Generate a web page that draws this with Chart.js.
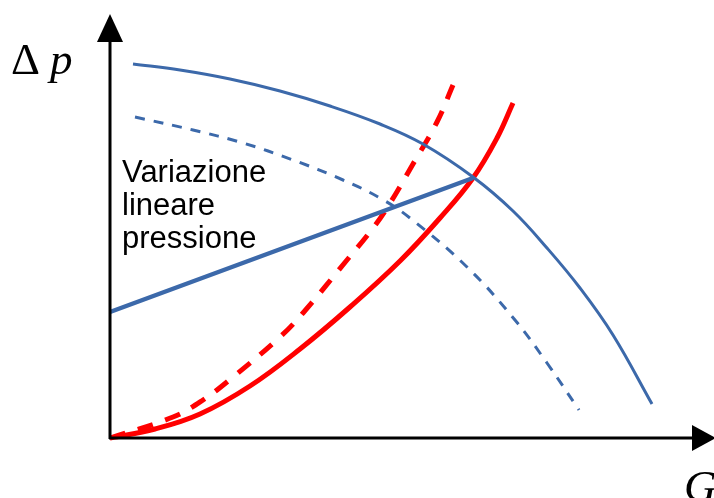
<!DOCTYPE html>
<html>
<head>
<meta charset="utf-8">
<script src="https://cdn.jsdelivr.net/npm/chart.js@4.4.0/dist/chart.umd.min.js"></script>
<style>
  html, body { margin: 0; padding: 0; background: #fff; }
  #wrap { width: 714px; height: 498px; }
</style>
</head>
<body>
<div id="wrap"><canvas id="myChart" width="714" height="498"></canvas></div>
<script>
// valori (G orizzontale, delta p verticale)
var pompaX = [23, 70, 120, 170, 220, 270, 313, 363, 403, 437, 470, 503, 542];
var pompaY = [374, 368, 359, 347, 332, 314, 294, 261, 227, 190, 150, 103, 34];

var pompaRidX = [25, 83, 133, 183, 233, 270, 300, 357, 405, 437, 469];
var pompaRidY = [321, 308, 295, 278, 258, 240, 220, 171, 118, 75, 28];

var circuitoX = [0, 45, 90, 140, 190, 240, 290, 330, 363, 387, 403];
var circuitoY = [0, 9, 24, 52, 89, 131, 177, 220, 260, 300, 335];

var circuito2X = [0, 63, 93, 123, 170, 193, 237, 260, 277, 303, 327, 343];
var circuito2Y = [0, 21, 38, 61, 101, 125, 178, 206, 230, 274, 316, 353];

var lineareX = [0, 363];
var lineareY = [126, 260];

var testo = ["Variazione", "lineare", "pressione"];

var blu = "#3C69AA";
var rosso = "#FF0000";

function punti(xs, ys) {
    var out = [];
    for (var i = 0; i < xs.length; i++) {
        out.push({x: xs[i], y: ys[i]});
    }
    return out;
}

// assi con frecce e scritte
var assiPlugin = {
    id: 'assi',
    afterDatasetsDraw: function (chart) {
        var ctx = chart.ctx;
        var a = chart.chartArea;
        ctx.save();
        ctx.strokeStyle = "#000";
        ctx.fillStyle = "#000";
        ctx.lineWidth = 3;
        // asse y
        ctx.beginPath();
        ctx.moveTo(a.left, a.bottom + 1);
        ctx.lineTo(a.left, a.top + 40);
        ctx.stroke();
        ctx.beginPath();
        ctx.moveTo(a.left, a.top + 14);
        ctx.lineTo(a.left - 13, a.top + 42);
        ctx.lineTo(a.left + 13, a.top + 42);
        ctx.closePath();
        ctx.fill();
        // asse x
        ctx.beginPath();
        ctx.moveTo(a.left - 1, a.bottom);
        ctx.lineTo(a.right - 20, a.bottom);
        ctx.stroke();
        ctx.beginPath();
        ctx.moveTo(a.right + 2, a.bottom);
        ctx.lineTo(a.right - 22, a.bottom - 13);
        ctx.lineTo(a.right - 22, a.bottom + 13);
        ctx.closePath();
        ctx.fill();

        ctx.textBaseline = "alphabetic";
        ctx.font = "45px 'Liberation Serif'";
        ctx.fillText("\u0394", 11, 74);
        ctx.font = "italic 45px 'Liberation Serif'";
        ctx.fillText("p", 50, 74);
        ctx.fillText("G", 684, 501);

        ctx.font = "31px 'Liberation Sans'";
        var base = [182, 215, 248];
        for (var i = 0; i < testo.length; i++) {
            ctx.fillText(testo[i], 122, base[i]);
        }
        ctx.restore();
    }
};

var ctx = document.getElementById("myChart");
var myLineChart = new Chart(ctx, {
    type: 'line',
    data: {
        datasets: [{
            data: punti(pompaX, pompaY),
            borderColor: blu,
            borderWidth: 3
        }, {
            data: punti(pompaRidX, pompaRidY),
            borderColor: blu,
            borderWidth: 3,
            borderDash: [10, 9]
        }, {
            data: punti(lineareX, lineareY),
            borderColor: blu,
            borderWidth: 4.5
        }, {
            data: punti(circuitoX, circuitoY),
            borderColor: rosso,
            borderWidth: 5
        }, {
            data: punti(circuito2X, circuito2Y),
            borderColor: rosso,
            borderWidth: 5,
            borderDash: [16, 13]
        }]
    },
    options: {
        responsive: false,
        animation: false,
        layout: { padding: { left: 110, right: 0, top: 0, bottom: 60 } },
        elements: {
            point: { radius: 0 },
            line: { tension: 0.4, fill: false, borderCapStyle: 'butt' }
        },
        datasets: { line: { clip: false } },
        plugins: { legend: { display: false }, tooltip: { enabled: false } },
        scales: {
            x: { type: 'linear', min: 0, max: 604, display: false },
            y: { type: 'linear', min: 0, max: 438, display: false }
        }
    },
    plugins: [assiPlugin]
});
</script>
</body>
</html>
